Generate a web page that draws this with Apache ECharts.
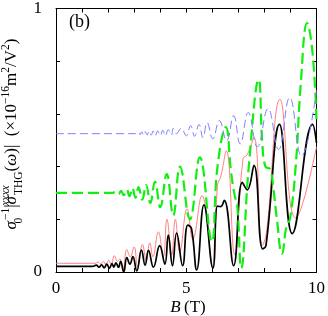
<!DOCTYPE html>
<html>
<head>
<meta charset="utf-8">
<script src="https://cdn.jsdelivr.net/npm/echarts@6/dist/echarts.min.js"></script>
<style>html,body{margin:0;padding:0;background:#fff;}#c{width:328px;height:316px;}</style>
</head>
<body>
<div id="c"></div>
<script>
// ---- data (B in tesla, value in 1e-16 m^2/V^2 normalised) ----
const blueB  = [0, 3.05, 3.16, 3.23, 3.29, 3.36, 3.42, 3.5, 3.57, 3.65, 3.73, 3.81, 3.9, 4.0, 4.1, 4.2, 4.31, 4.43, 4.5, 4.62, 4.81, 5.0, 5.17, 5.32, 5.49, 5.64, 5.8, 6.02, 6.27, 6.55, 6.82, 7.07, 7.38, 7.73, 8.14, 8.54, 8.97, 9.42, 10];
const blueV  = [0.525, 0.525, 0.531, 0.521, 0.532, 0.52, 0.533, 0.52, 0.534, 0.519, 0.535, 0.518, 0.536, 0.518, 0.538, 0.517, 0.54, 0.52, 0.545, 0.525, 0.545, 0.517, 0.555, 0.515, 0.56, 0.51, 0.567, 0.505, 0.575, 0.498, 0.593, 0.486, 0.605, 0.475, 0.62, 0.465, 0.662, 0.44, 0.69];

const greenB = [0, 2.15, 2.3, 2.4, 2.5, 2.6, 2.72, 2.82, 2.93, 3.05, 3.17, 3.31, 3.46, 3.62, 3.8, 4.0, 4.25, 4.5, 4.76, 5.14, 5.52, 5.98, 6.2, 6.52, 6.72, 6.86, 6.96, 7.11, 7.4, 7.78, 7.92, 8.04, 8.22, 8.34, 8.48, 8.67, 8.86, 8.98, 9.2, 9.4, 9.64, 9.84, 10];
const greenV = [0.3, 0.3, 0.305, 0.296, 0.308, 0.292, 0.312, 0.288, 0.318, 0.282, 0.322, 0.275, 0.33, 0.262, 0.342, 0.246, 0.372, 0.215, 0.4, 0.2, 0.435, 0.115, 0.4, 0.55, 0.38, 0.29, 0.25, 0.015, 0.4, 0.73, 0.49, 0.4, 0.39, 0.32, 0.2, 0.07, 0.18, 0.2, 0.4, 0.72, 0.945, 0.84, 0.58];

const redB   = [0, 1.5, 1.62, 1.72, 1.82, 1.92, 2.02, 2.12, 2.24, 2.36, 2.45, 2.57, 2.72, 2.85, 3.0, 3.13, 3.32, 3.46, 3.6, 3.72, 3.93, 4.12, 4.26, 4.44, 4.58, 4.75, 5.03, 5.25, 5.6, 6.02, 6.2, 6.32, 6.54, 6.86, 7.18, 7.34, 7.6, 7.92, 8.08, 8.6, 9.2, 10];
const redV   = [0.033, 0.033, 0.038, 0.03, 0.04, 0.028, 0.045, 0.03, 0.062, 0.04, 0.05, 0.006, 0.085, 0.058, 0.095, 0.02, 0.105, 0.045, 0.11, 0.058, 0.152, 0.058, 0.2, 0.064, 0.2, 0.077, 0.24, 0.125, 0.29, 0.016, 0.33, 0.36, 0.46, 0.065, 0.43, 0.445, 0.51, 0.1, 0.15, 0.655, 0.205, 0.475];

const blackB = [0, 1.4, 1.55, 1.65, 1.75, 1.85, 1.95, 2.05, 2.15, 2.22, 2.3, 2.4, 2.48, 2.6, 2.72, 2.84, 2.95, 3.1, 3.28, 3.42, 3.55, 3.74, 3.98, 4.18, 4.31, 4.47, 4.63, 4.86, 5.06, 5.2, 5.4, 5.68, 6.02, 6.2, 6.32, 6.46, 6.82, 7.15, 7.34, 7.6, 7.93, 8.06, 8.58, 9.07, 9.85, 10];
const blackV = [0.021, 0.021, 0.026, 0.018, 0.027, 0.016, 0.03, 0.014, 0.032, 0.018, 0.035, 0.018, 0.04, 0.0, 0.055, 0.03, 0.058, 0.004, 0.083, 0.026, 0.082, 0.018, 0.1, 0.03, 0.14, 0.024, 0.148, 0.024, 0.178, 0.165, 0.008, 0.255, 0.015, 0.25, 0.248, 0.272, 0.024, 0.34, 0.312, 0.405, 0.088, 0.1, 0.56, 0.146, 0.56, 0.49];

const xTickLabels = [0, 5, 10];
const yTickLabels = [0, 1];

function zip(a, b) { return a.map((v, i) => [v, b[i]]); }

const serif = '"Liberation Serif", "DejaVu Serif", serif';
const chart = echarts.init(document.getElementById('c'), null, {renderer: 'canvas'});

const tickStyle = {show: true, inside: true, length: 4, lineStyle: {color: '#000', width: 1}};
const lineSt = {show: true, onZero: false, lineStyle: {color: '#000', width: 1}};

const titleRich = {
  n:   {fontFamily: serif, fontSize: 17, lineHeight: 25, color: '#000'},
  it:  {fontFamily: serif, fontSize: 17, fontStyle: 'italic', lineHeight: 25, color: '#000'},
  sup: {fontFamily: serif, fontSize: 11.5, lineHeight: 12, verticalAlign: 'top', color: '#000'},
  supi:{fontFamily: serif, fontSize: 11.5, fontStyle: 'italic', lineHeight: 12, verticalAlign: 'top', color: '#000', width: 1},
  subw:{fontFamily: serif, fontSize: 11.5, lineHeight: 12, verticalAlign: 'bottom', color: '#000', width: 1},
  sub: {fontFamily: serif, fontSize: 11.5, lineHeight: 12, verticalAlign: 'bottom', color: '#000'}
};

const option = {
  animation: false,
  backgroundColor: '#fff',
  grid: {left: 56, right: 8, top: 7, bottom: 44, containLabel: false},
  xAxis: [
    {type: 'value', position: 'bottom', min: 0, max: 10, interval: 1,
     axisLine: lineSt, axisTick: tickStyle, splitLine: {show: false},
     axisLabel: {margin: 8, fontFamily: serif, fontSize: 17, color: '#000',
       formatter: v => xTickLabels.includes(v) ? String(v) : ''}},
    {type: 'value', position: 'top', min: 0, max: 10, interval: 1,
     axisLine: lineSt, axisTick: tickStyle, splitLine: {show: false}, axisLabel: {show: false}}
  ],
  yAxis: [
    {type: 'value', position: 'left', min: 0, max: 1, interval: 0.2,
     axisLine: lineSt, axisTick: tickStyle, splitLine: {show: false},
     axisLabel: {margin: 14, fontFamily: serif, fontSize: 17, color: '#000',
       formatter: v => yTickLabels.includes(v) ? String(v) : ''}},
    {type: 'value', position: 'right', min: 0, max: 1, interval: 0.2,
     axisLine: lineSt, axisTick: tickStyle, splitLine: {show: false}, axisLabel: {show: false}}
  ],
  series: [
    {type: 'line', data: zip(redB, redV), smooth: 0.45, showSymbol: false, silent: true,
     lineStyle: {color: '#ff7f7f', width: 1}},
    {type: 'line', data: zip(blackB, blackV), smooth: 0.45, showSymbol: false, silent: true,
     lineStyle: {color: '#000', width: 1.7}},
    {type: 'line', data: zip(greenB, greenV), smooth: 0.45, showSymbol: false, silent: true,
     lineStyle: {color: '#11ee11', width: 2.2, type: [11, 5]}},
    {type: 'line', data: zip(blueB, blueV), smooth: 0.45, showSymbol: false, silent: true,
     lineStyle: {color: '#7f7fff', width: 1, type: [8, 4]}}
  ],
  graphic: [
    {type: 'text', left: 69, top: 13, style: {text: '(b)', fontFamily: serif, fontSize: 18, fill: '#000'}},
    {type: 'text', x: 188, y: 308, style: {
      text: '{it|B} {n|(T)}', align: 'center', verticalAlign: 'middle', rich: titleRich}},
    {type: 'text', x: 12, y: 134, rotation: Math.PI / 2, style: {
      text: '{it|σ}{subw|0}{sup|−1}{n||}{it|σ}{supi|xxxx}{sub|THG}{n|(}{it|ω}{n|)|  (×10}{sup|−16}{n|m}{sup|2}{n|/V}{sup|2}{n|)}',
      align: 'center', verticalAlign: 'middle', rich: titleRich}}
  ]
};
chart.setOption(option);
</script>
</body>
</html>
